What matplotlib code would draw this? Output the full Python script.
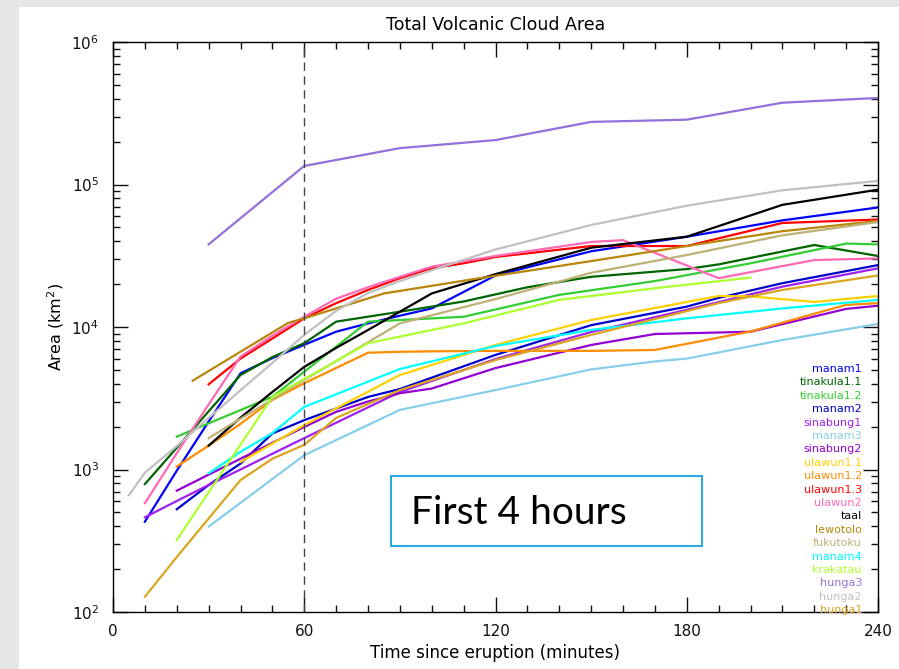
import matplotlib
matplotlib.use("Agg")
import matplotlib.pyplot as plt
from matplotlib.patches import Rectangle
from matplotlib.ticker import LogLocator, MultipleLocator, LogFormatterSciNotation

# series names (legend order)
names = ['manam1', 'tinakula1.1', 'tinakula1.2', 'manam2', 'sinabung1', 'manam3',
         'sinabung2', 'ulawun1.1', 'ulawun1.2', 'ulawun1.3', 'ulawun2', 'taal',
         'lewotolo', 'fukutoku', 'manam4', 'krakatau', 'hunga3', 'hunga2', 'hunga1']

# time since eruption (minutes) and cloud area (km2) for each eruption
t_manam1 = [10, 20, 30, 40, 50, 60, 70, 80, 90, 100, 120, 150, 180, 210, 240]
a_manam1 = [430, 980, 2170, 4730, 6050, 7500, 9270, 10600, 12000, 13500, 23000, 34000, 43000, 56000, 69000]

t_tinakula11 = [10, 20, 30, 40, 50, 60, 70, 90, 110, 130, 150, 180, 190, 220, 240]
a_tinakula11 = [790, 1420, 2560, 4600, 6150, 7700, 10900, 12800, 15100, 19000, 22500, 25500, 27500, 37600, 31500]

t_tinakula12 = [20, 50, 80, 110, 140, 170, 200, 230, 240]
a_tinakula12 = [1700, 3240, 10900, 11800, 16800, 21000, 28000, 38500, 38000]

t_manam2 = [20, 30, 40, 50, 60, 80, 90, 120, 150, 180, 190, 210, 240]
a_manam2 = [526, 778, 1100, 1790, 2220, 3230, 3670, 6370, 10300, 13900, 16000, 20300, 27200]

t_sinabung1 = [10, 20, 30, 40, 50, 60, 90, 120, 150, 180, 210, 240]
a_sinabung1 = [462, 601, 778, 1000, 1290, 1660, 3500, 5960, 9220, 13200, 19200, 25800]

t_manam3 = [30, 60, 90, 120, 150, 170, 180, 210, 240]
a_manam3 = [397, 1260, 2620, 3610, 5040, 5730, 6000, 8100, 10500]

t_sinabung2 = [20, 30, 40, 50, 60, 70, 80, 90, 100, 120, 150, 170, 200, 230, 240]
a_sinabung2 = [710, 920, 1190, 1540, 1990, 2540, 3000, 3430, 3700, 5150, 7480, 8930, 9260, 13400, 14100]

t_ulawun11 = [40, 50, 60, 90, 120, 150, 190, 200, 220, 240]
a_ulawun11 = [1130, 1520, 2050, 4600, 7480, 11200, 16500, 16400, 15000, 16500]

t_ulawun12 = [20, 30, 40, 50, 60, 80, 90, 100, 120, 150, 170, 200, 230, 240]
a_ulawun12 = [1050, 1470, 2090, 3080, 4030, 6600, 6700, 6750, 6800, 6800, 6900, 9300, 14300, 14700]

t_ulawun13 = [30, 40, 50, 60, 70, 80, 90, 100, 110, 120, 150, 180, 210, 240]
a_ulawun13 = [3960, 6000, 8300, 11500, 14700, 18200, 22000, 25800, 28000, 31000, 37000, 37000, 53700, 56800]

t_ulawun2 = [10, 20, 30, 40, 50, 60, 70, 80, 90, 100, 120, 150, 160, 190, 220, 240]
a_ulawun2 = [580, 1300, 2860, 6200, 8700, 11800, 15800, 19000, 22500, 26500, 31500, 39500, 40700, 22000, 29500, 30300]

t_taal = [30, 40, 50, 60, 70, 80, 90, 100, 120, 150, 180, 210, 240]
a_taal = [1470, 2310, 3500, 5250, 7130, 9530, 12800, 17200, 23500, 36000, 43000, 72000, 92000]

t_lewotolo = [25, 55, 60, 85, 115, 150, 180, 210, 240]
a_lewotolo = [4200, 10700, 11500, 17200, 22000, 29000, 37000, 47000, 55500]

t_fukutoku = [30, 60, 90, 120, 150, 180, 210, 240]
a_fukutoku = [1660, 4250, 10600, 15700, 24000, 32000, 44000, 54500]

t_manam4 = [30, 40, 50, 60, 90, 120, 150, 180, 210, 240]
a_manam4 = [940, 1330, 1800, 2750, 5070, 7360, 9540, 11500, 13500, 15500]

t_krakatau = [20, 50, 80, 110, 140, 170, 200]
a_krakatau = [320, 3230, 7700, 10600, 15500, 18700, 22200]

t_hunga3 = [30, 60, 90, 120, 150, 180, 210, 240]
a_hunga3 = [38000, 135000, 180000, 205000, 275000, 285000, 375000, 405000]

t_hunga2 = [5, 10, 20, 30, 40, 50, 60, 70, 80, 90, 100, 120, 150, 180, 210, 240]
a_hunga2 = [660, 950, 1460, 2300, 3600, 5600, 8800, 13000, 17300, 21000, 25000, 35000, 52000, 71000, 91000, 106000]

t_hunga1 = [10, 20, 30, 40, 50, 60, 70, 90, 120, 150, 190, 210, 240]
a_hunga1 = [128, 243, 453, 843, 1190, 1490, 2300, 3610, 5860, 8800, 14700, 18200, 23000]

times = [t_manam1, t_tinakula11, t_tinakula12, t_manam2, t_sinabung1, t_manam3,
         t_sinabung2, t_ulawun11, t_ulawun12, t_ulawun13, t_ulawun2, t_taal,
         t_lewotolo, t_fukutoku, t_manam4, t_krakatau, t_hunga3, t_hunga2, t_hunga1]
areas = [a_manam1, a_tinakula11, a_tinakula12, a_manam2, a_sinabung1, a_manam3,
         a_sinabung2, a_ulawun11, a_ulawun12, a_ulawun13, a_ulawun2, a_taal,
         a_lewotolo, a_fukutoku, a_manam4, a_krakatau, a_hunga3, a_hunga2, a_hunga1]

colors = ['#0000ff', '#006400', '#32cd32', '#0000cd', '#a020f0', '#87ceeb',
          '#9400d3', '#ffd000', '#ff8c00', '#ff0000', '#ff69b4', '#000000',
          '#b8860b', '#bdb176', '#00ffff', '#adff2f', '#9370db', '#c0c0c0', '#daa520']

fig = plt.figure(figsize=(8.99, 6.69), dpi=100, facecolor='#e6e6e6')
# white slide area
fig.patches.append(Rectangle((19 / 899, 0), 1, 1 - 7 / 669, transform=fig.transFigure,
                             facecolor='white', edgecolor='none', zorder=-10))

ax = fig.add_axes([113 / 899, 1 - 612 / 669, 765 / 899, 570 / 669])
ax.set_facecolor('white')

for t, a, c in zip(times, areas, colors):
    ax.plot(t, a, color=c, lw=1.6)

ax.axvline(60, color='#444444', lw=1.0, ls=(0, (6, 4)))

ax.set_yscale('log')
ax.set_xlim(0, 240)
ax.set_ylim(1e2, 1e6)
ax.xaxis.set_major_locator(MultipleLocator(60))
ax.xaxis.set_minor_locator(MultipleLocator(10))
ax.yaxis.set_major_locator(LogLocator(base=10))
ax.yaxis.set_minor_locator(LogLocator(base=10, subs=range(2, 10)))
ax.yaxis.set_major_formatter(LogFormatterSciNotation())
ax.tick_params(which='both', direction='in', top=True, right=True, width=1.0, colors='#111111')
ax.tick_params(which='major', length=11, labelsize=11)
ax.tick_params(axis='x', which='major', pad=9)
ax.tick_params(axis='y', which='major', pad=10)
ax.tick_params(which='minor', length=5)
for s in ax.spines.values():
    s.set_linewidth(1.0)

ax.set_title('Total Volcanic Cloud Area', fontsize=12.5, pad=9)
ax.set_xlabel('Time since eruption (minutes)', fontsize=12, labelpad=3)
ax.set_ylabel('Area (km$^2$)', fontsize=11.5, labelpad=4)

# colored legend text on the right
for i, (n, c) in enumerate(zip(names, colors)):
    y = 369 + i * 13.4
    ax.text(0.979, (612 - y) / 570, n, color=c, fontsize=8, ha='right', va='center',
            transform=ax.transAxes)

# annotation box
fig.patches.append(Rectangle((391 / 899, 1 - 546 / 669), 311 / 899, 70 / 669,
                             transform=fig.transFigure, facecolor='white',
                             edgecolor='#29abe2', lw=1.5, zorder=5))
fig.text(411 / 899, 1 - 513 / 669, 'First 4 hours', fontsize=28, family='Lato',
         ha='left', va='center', color='black', zorder=6)

fig.savefig('out.png', dpi=100, facecolor=fig.get_facecolor())
